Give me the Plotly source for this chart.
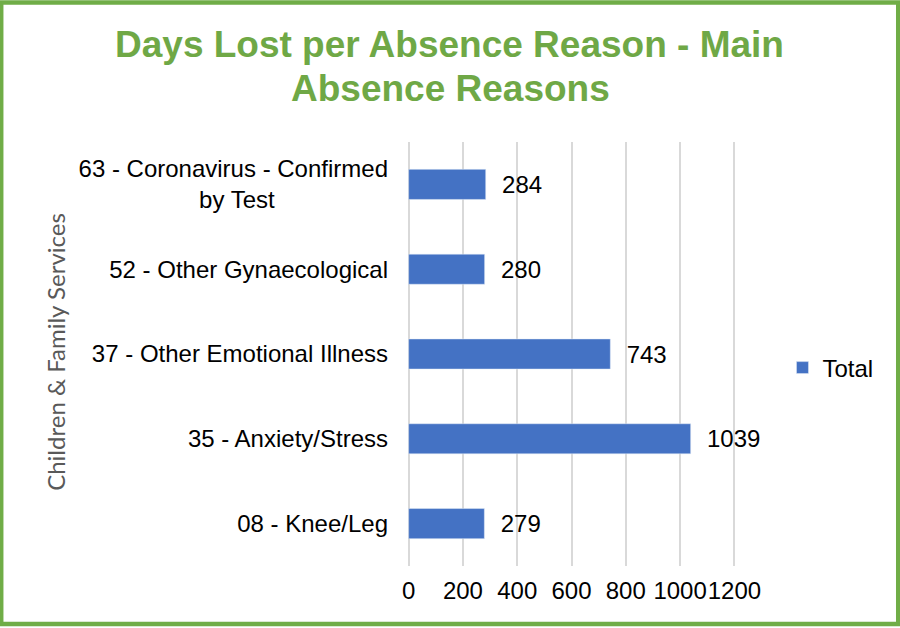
import plotly.graph_objects as go

categories = ["08 - Knee/Leg", "35 - Anxiety/Stress", "37 - Other Emotional Illness",
              "52 - Other Gynaecological", "63 - Coronavirus - Confirmed by Test"]
values = [279, 1039, 743, 280, 284]
series_name = "Total"
x_ticks = [0, 200, 400, 600, 800, 1000, 1200]
x_ticklabels = ["0", "200", "400", "600", "800", "1000", "1200"]
title_lines = ["Days Lost per Absence Reason - Main", "Absence Reasons"]
y_title = "Children & Family Services"

W, H = 900, 628
PAD = 6                      # extra axis units on each side so edge gridlines are drawn
X0_PX, X1_PX = 409, 734      # pixel positions of 0 and 1200
scale = (X1_PX - X0_PX) / 1200
ML = X0_PX - PAD * scale
MR = W - (X1_PX + PAD * scale)
MT, MB = 142, 62
pw, ph = W - ML - MR, H - MT - MB

def px(x):
    return (x - ML) / pw

def py(y):
    return (H - MB - y) / ph

def wrap(label):
    # wrap the long category the way the original chart does (second line centred)
    if label.endswith(" by Test"):
        return label[:-len(" by Test")] + "<br>by Test" + "\u00a0" * 17
    return label

tick_text = [wrap(c) for c in categories]

fig = go.Figure()
fig.add_trace(go.Bar(
    y=categories, x=values, orientation="h", name=series_name,
    marker=dict(color="#4472C4"),
    text=values, texttemplate="  %{x}", textposition="outside",
    textfont=dict(size=24, color="#000000", family="Liberation Sans, Arial"),
    cliponaxis=False, showlegend=True,
))

fig.update_layout(
    width=W, height=H,
    margin=dict(l=ML, r=MR, t=MT, b=MB, autoexpand=False),
    paper_bgcolor="white", plot_bgcolor="white",
    font=dict(family="Liberation Sans, Arial", size=24, color="#000000"),
    bargap=0.645,
    xaxis=dict(range=[-PAD, 1200 + PAD], tickvals=x_ticks, ticktext=x_ticklabels,
               showgrid=True, gridcolor="#D9D9D9", gridwidth=1.5,
               zeroline=True, zerolinecolor="#D9D9D9", zerolinewidth=1.5,
               showline=False, ticks="", tickangle=0, ticklabelstandoff=8,
               tickfont=dict(size=24, color="#000000")),
    yaxis=dict(showgrid=False, zeroline=False, showline=False, ticks="",
               tickvals=categories, ticktext=tick_text,
               ticklabelstandoff=18,
               tickfont=dict(size=24, color="#000000")),
    legend=dict(x=px(782), y=py(368), xanchor="left", yanchor="middle",
                font=dict(size=24, color="#000000"), bgcolor="rgba(0,0,0,0)",
                itemwidth=30),
    annotations=[
        dict(text="<b>%s</b>" % title_lines[0],
             xref="paper", yref="paper", x=px(450), y=py(45),
             xanchor="center", yanchor="middle", showarrow=False,
             font=dict(size=37, color="#6FA846", family="Liberation Sans, Arial")),
        dict(text="<b>%s</b>" % title_lines[1],
             xref="paper", yref="paper", x=px(451), y=py(88),
             xanchor="center", yanchor="middle", showarrow=False,
             font=dict(size=37, color="#6FA846", family="Liberation Sans, Arial")),
        dict(text=y_title, textangle=-90,
             xref="paper", yref="paper", x=px(56), y=py(352),
             xanchor="center", yanchor="middle", showarrow=False,
             font=dict(size=24, color="#595959", family="Lato, Open Sans")),
    ],
    shapes=[dict(type="rect", xref="paper", yref="paper",
                 x0=px(2.5), x1=px(897.5), y0=py(2.5), y1=py(624),
                 line=dict(color="#70AD47", width=4.5), fillcolor="rgba(0,0,0,0)",
                 layer="below")],
)

fig.write_html("out.html", config={"displayModeBar": False},
               post_script="document.body.style.margin='0';document.body.style.overflow='hidden';")
